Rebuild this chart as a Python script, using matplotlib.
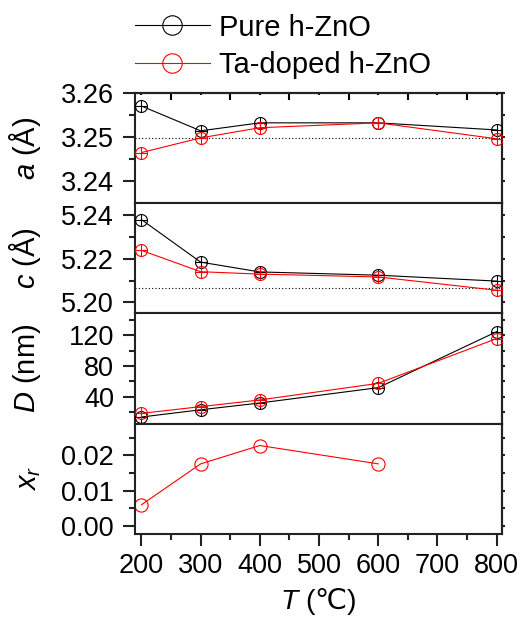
import matplotlib
matplotlib.use('Agg')
import matplotlib.pyplot as plt
from matplotlib.ticker import MultipleLocator, FormatStrFormatter
from matplotlib.lines import Line2D

plt.rcParams['font.family'] = ['Liberation Sans', 'DejaVu Sans']
plt.rcParams['mathtext.fontset'] = 'custom'
plt.rcParams['mathtext.rm'] = 'Liberation Sans'
plt.rcParams['mathtext.it'] = 'Liberation Sans:italic'
# Liberation Sans has no degree-Celsius sign, take it from DejaVu
plt.rcParams['mathtext.sf'] = 'DejaVu Sans'

""" Lattice parameters, crystallite size and Ta fraction vs annealing temperature """
temps = [200, 300, 400, 600, 800]
a_pure = [3.2570, 3.2514, 3.2532, 3.2532, 3.2516]
a_ta = [3.2465, 3.2498, 3.2521, 3.2532, 3.2496]
c_pure = [5.2380, 5.2185, 5.2140, 5.2125, 5.2098]
c_ta = [5.2239, 5.2141, 5.2130, 5.2117, 5.2056]
d_pure = [13.2, 22.7, 31.6, 51.7, 125.0]
d_ta = [18.0, 26.8, 35.6, 57.3, 116.0]
xr_temps = [200, 300, 400, 600]
xr_ta = [0.0060, 0.0176, 0.0228, 0.0176]
# bulk h-ZnO reference values
a_ref = 3.2498
c_ref = 5.2066

labels = ['Pure h-ZnO', 'Ta-doped h-ZnO']

fig, axes = plt.subplots(4, 1, figsize=(5.21, 6.21), dpi=100, sharex=True)
fig.subplots_adjust(left=0.259, right=0.9635, top=0.8507, bottom=0.1401, hspace=0)

def series(ax, x, y, color, ms=8.6):
    ax.plot(x, y, color=color, lw=0.8, marker='o', ms=ms, mfc='none', mec=color, mew=0.8, zorder=3)
    ax.plot(x, y, ls='none', color=color, marker='+', ms=ms, mew=0.8, zorder=3)

def style(ax, ylim, major, minor, ylabel):
    ax.set_xlim(189, 809)
    ax.set_ylim(*ylim)
    ax.xaxis.set_major_locator(MultipleLocator(100))
    ax.xaxis.set_minor_locator(MultipleLocator(50))
    ax.yaxis.set_major_locator(MultipleLocator(major))
    ax.yaxis.set_minor_locator(MultipleLocator(minor))
    ax.tick_params(which='major', direction='out', length=8.5, width=1.5, labelsize=19.5, color='#222222')
    ax.tick_params(which='minor', direction='out', length=4.5, width=1.5, color='#222222')
    ax.tick_params(axis='x', pad=5)
    ax.tick_params(axis='y', pad=6.5)
    for s in ax.spines.values():
        s.set_linewidth(1.5)
        s.set_color('#222222')
    ax.set_ylabel(ylabel, fontsize=21)
    ax.yaxis.set_label_coords(-0.25, 0.5)
    # short outward ticks on the right side
    sec = ax.secondary_yaxis('right')
    sec.yaxis.set_major_locator(MultipleLocator(major))
    sec.yaxis.set_minor_locator(MultipleLocator(minor))
    sec.tick_params(which='both', direction='out', length=2.5, width=1.5, labelright=False, color='#222222')
    sec.spines['right'].set_linewidth(1.5)

ax = axes[0]
series(ax, temps, a_pure, 'black')
series(ax, temps, a_ta, 'red')
ax.axhline(a_ref, color='black', lw=0.8, ls=(0, (1, 2)), zorder=1)
style(ax, (3.2351, 3.26), 0.01, 0.005, '$a$ (Å)')
ax.yaxis.set_major_formatter(FormatStrFormatter('%.2f'))
top = ax.secondary_xaxis('top')
top.xaxis.set_major_locator(MultipleLocator(100))
top.xaxis.set_minor_locator(MultipleLocator(50))
top.tick_params(which='major', direction='in', length=1.5, width=1.5, labeltop=False)
top.tick_params(which='minor', direction='in', length=5, width=1.5)
top.spines['top'].set_linewidth(1.5)

ax = axes[1]
series(ax, temps, c_pure, 'black')
series(ax, temps, c_ta, 'red')
ax.axhline(c_ref, color='black', lw=0.8, ls=(0, (1, 2)), zorder=1)
style(ax, (5.195, 5.2456), 0.02, 0.01, '$c$ (Å)')
ax.yaxis.set_major_formatter(FormatStrFormatter('%.2f'))

ax = axes[2]
series(ax, temps, d_pure, 'black')
series(ax, temps, d_ta, 'red')
style(ax, (4.5, 149), 40, 20, '$D$ (nm)')

ax = axes[3]
ax.plot(xr_temps, xr_ta, color='red', lw=0.8, marker='o', ms=9.5, mfc='none', mew=0.8)
style(ax, (-0.0023, 0.029), 0.01, 0.005, '$x_r$')
ax.yaxis.set_major_formatter(FormatStrFormatter('%.2f'))
ax.set_xlabel('$T$ ($\\mathsf{℃}$)', fontsize=20.5, labelpad=5)

handles = [Line2D([], [], color='black', lw=0.8, marker='o', ms=14, mfc='none', mew=0.8),
           Line2D([], [], color='red', lw=0.8, marker='o', ms=14, mfc='none', mew=0.8)]
fig.legend(handles, labels, loc='upper left', bbox_to_anchor=(0.259, 0.978), frameon=False,
           fontsize=21, handlelength=2.57, handletextpad=0.3, labelspacing=0.32, borderpad=0, borderaxespad=0)

fig.savefig('out.png', dpi=100)
